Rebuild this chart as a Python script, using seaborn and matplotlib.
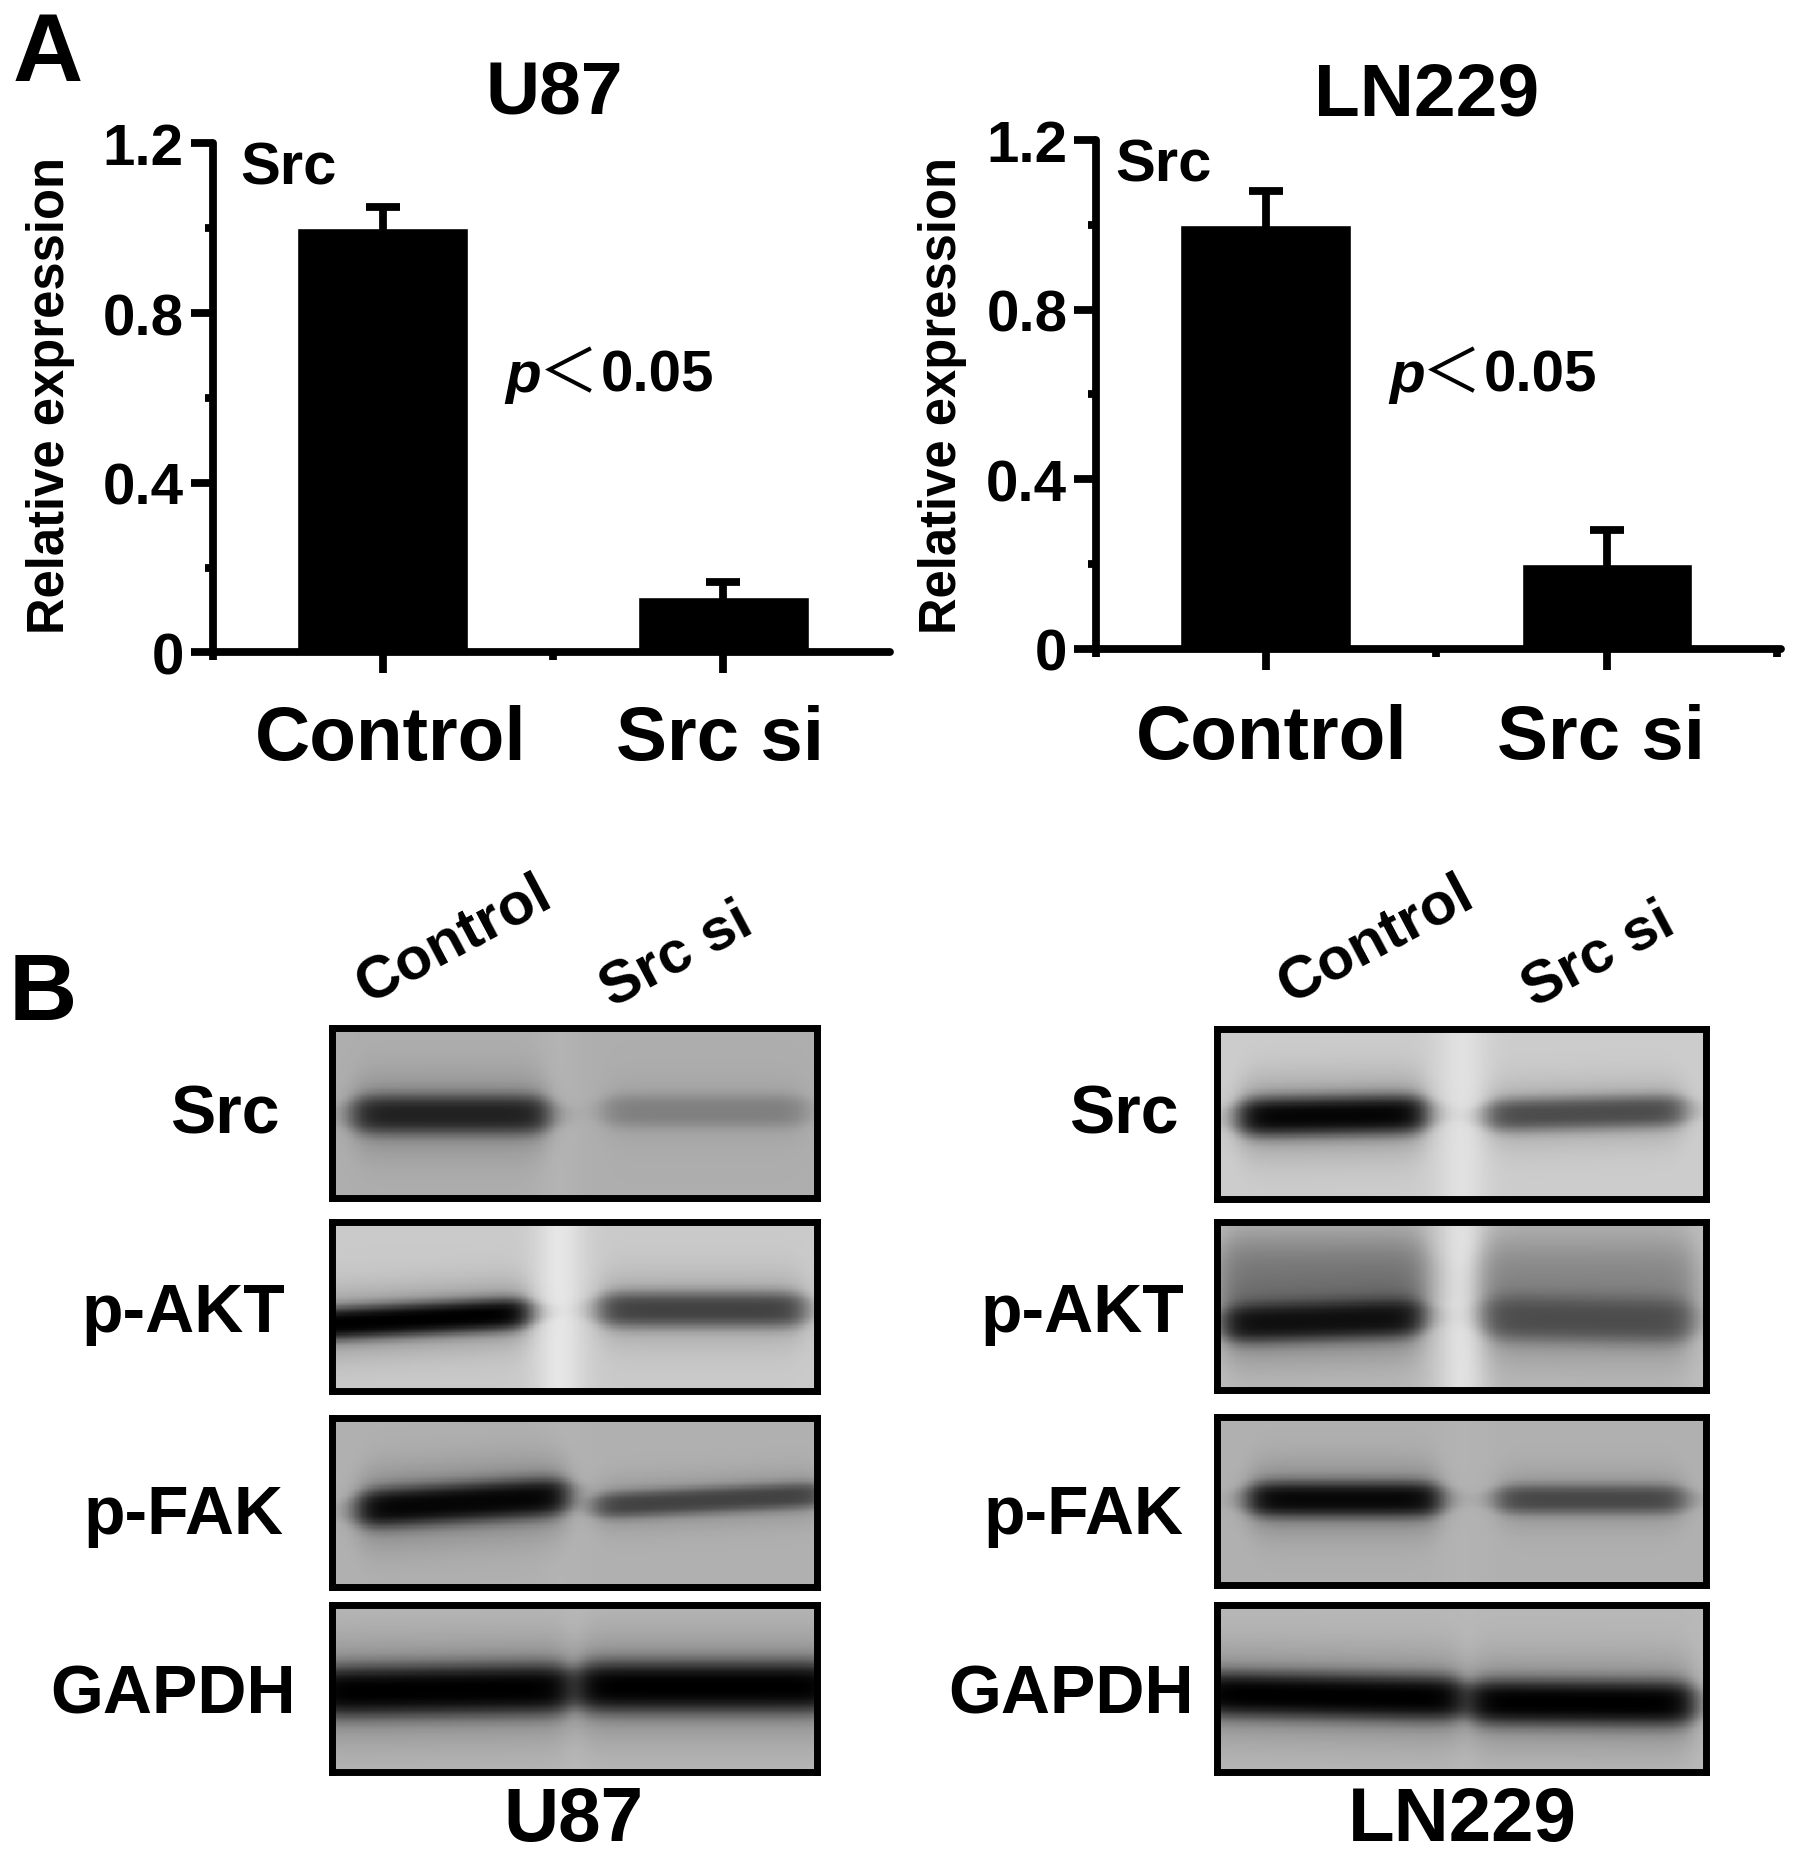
"""Bar charts and western blot panels for Src knockdown in U87 and LN229."""

import numpy as np
import matplotlib
matplotlib.use('Agg')
import matplotlib.pyplot as plt
from matplotlib.ticker import FixedLocator
from matplotlib.transforms import ScaledTranslation
import seaborn as sns

# layout is measured on a 1516x1568 view of the figure
VIEW_W, VIEW_H = 1516, 1568

CONDITIONS = ['Control', 'Src si']
CELL_LINES = ['U87', 'LN229']

U87_EXPRESSION = [1.00, 0.13]
U87_ERROR = [0.05, 0.035]
LN229_EXPRESSION = [1.00, 0.20]
LN229_ERROR = [0.08, 0.08]

Y_TICKS = [0, 0.4, 0.8, 1.2]
Y_TICK_LABELS = ['0', '0.4', '0.8', '1.2']
Y_MINOR_TICKS = [0.2, 0.6, 1.0]

BLOT_ROWS = ['Src', 'p-AKT', 'p-FAK', 'GAPDH']

# background grey of each membrane, and grey of the pale strip between lanes
U87_BACKGROUND = [0.68, 0.79, 0.69, 0.72]
U87_GAP = [0.70, 0.90, 0.70, 0.72]
LN229_BACKGROUND = [0.80, 0.74, 0.69, 0.72]
LN229_GAP = [0.88, 0.88, 0.70, 0.72]

# one band per row and lane: x start, x end, y left, y right, half thickness, darkest grey
U87_BANDS = [
    [(0.04, 0.45, 0.51, 0.51, 0.12, 0.13), (0.56, 0.98, 0.49, 0.49, 0.10, 0.50)],
    [(-0.10, 0.41, 0.62, 0.54, 0.10, 0.00), (0.55, 0.98, 0.52, 0.52, 0.11, 0.26)],
    [(0.05, 0.49, 0.54, 0.46, 0.12, 0.02), (0.54, 1.02, 0.52, 0.45, 0.08, 0.26)],
    [(-0.05, 0.50, 0.52, 0.50, 0.16, 0.00), (0.50, 1.05, 0.49, 0.49, 0.16, 0.00)],
]
LN229_BANDS = [
    [(0.04, 0.43, 0.52, 0.50, 0.12, 0.02), (0.55, 0.96, 0.51, 0.48, 0.10, 0.30)],
    [(0.00, 0.43, 0.35, 0.35, 0.28, 0.48), (0.54, 0.98, 0.38, 0.38, 0.30, 0.55),
     (0.01, 0.42, 0.61, 0.57, 0.12, 0.06), (0.55, 0.97, 0.57, 0.59, 0.14, 0.30)],
    [(0.06, 0.46, 0.49, 0.49, 0.11, 0.03), (0.57, 0.96, 0.49, 0.49, 0.09, 0.28)],
    [(-0.05, 0.51, 0.53, 0.56, 0.14, 0.00), (0.51, 0.98, 0.58, 0.59, 0.14, 0.00)],
]

sns.set_theme(style='ticks', rc={'text.color': 'black', 'axes.edgecolor': 'black',
                                 'xtick.color': 'black', 'ytick.color': 'black'})
plt.rcParams['font.family'] = ['Liberation Sans', 'DejaVu Sans']
plt.rcParams['font.weight'] = 'bold'

AXIS_LINE = 5.6
FRAME_LINE = 5.0


def rect(left, top, right, bottom):
    return [left / VIEW_W, 1 - bottom / VIEW_H, (right - left) / VIEW_W, (bottom - top) / VIEW_H]


def put_text(fig, x, y, text, size, **kwargs):
    kwargs.setdefault('ha', 'center')
    kwargs.setdefault('va', 'center')
    kwargs.setdefault('fontweight', 'bold')
    return fig.text(x / VIEW_W, 1 - y / VIEW_H, text, fontsize=size, color='black', **kwargs)


def plot_bars(fig, box, xlim, values, errors, label_shifts, label_pad, title_xy, src_xy, ylabel_x, p_x):
    """Draw one expression bar chart."""
    ax = fig.add_axes(rect(*box))
    ax.patch.set_alpha(0)
    sns.barplot(x=CONDITIONS, y=values, color='black', saturation=1, width=0.5,
                errorbar=None, ax=ax)
    # the lower half of each error bar disappears inside the black bar
    ax.errorbar([0, 1], values, yerr=errors, fmt='none', ecolor='black',
                elinewidth=AXIS_LINE, capsize=12, capthick=AXIS_LINE)
    ax.set_xlim(*xlim)
    ax.set_ylim(0, 1.2)
    sns.despine(ax=ax)
    for side in ['left', 'bottom']:
        ax.spines[side].set_linewidth(AXIS_LINE)
        ax.spines[side].set_capstyle('round')

    ax.set_yticks(Y_TICKS)
    ax.set_yticklabels(Y_TICK_LABELS, fontsize=42, fontweight='bold')
    ax.yaxis.set_minor_locator(FixedLocator(Y_MINOR_TICKS))
    ax.xaxis.set_minor_locator(FixedLocator([xlim[0], 0.5, 1.5]))
    ax.tick_params(axis='y', which='major', length=16, width=AXIS_LINE, pad=5)
    ax.tick_params(axis='x', which='major', length=15, width=AXIS_LINE, pad=label_pad)
    ax.tick_params(which='minor', length=6, width=AXIS_LINE)
    ax.set_xticks([0, 1])
    ax.set_xticklabels(CONDITIONS, fontsize=55, fontweight='bold')
    for label, dx in zip(ax.get_xticklabels(), label_shifts):
        shift = ScaledTranslation(dx / 72, 0, fig.dpi_scale_trans)
        label.set_transform(label.get_transform() + shift)

    put_text(fig, *title_xy[:2], title_xy[2], 54)
    put_text(fig, *src_xy, 'Src', 43)
    put_text(fig, ylabel_x, 334, 'Relative expression', 36.5, rotation=90)
    # p value is built from three pieces because the less-than sign is a CJK glyph
    put_text(fig, p_x, 331, 'p', 42, ha='left', va='baseline', fontstyle='italic')
    put_text(fig, p_x + 53, 331, '\uff1c', 43, va='baseline', fontweight='normal',
             family=['Noto Sans CJK SC', 'DejaVu Sans'])
    put_text(fig, p_x + 80, 331, '0.05', 42, ha='left', va='baseline')


def blot_image(bands, background, gap, gap_x, width=410, height=144):
    """Build a grey membrane image with the given bands on it."""
    xs = np.linspace(0, 1, width)[None, :]
    ys = np.linspace(0, 1, height)[:, None]
    img = background + (gap - background) * np.exp(-((xs - gap_x) / 0.05) ** 2) * np.ones_like(ys)
    for x0, x1, y0, y1, half, dark in bands:
        ends = (1 / (1 + np.exp(-(xs - x0) / 0.016))) * (1 / (1 + np.exp((xs - x1) / 0.016)))
        middle = y0 + (y1 - y0) * (xs - x0) / (x1 - x0)
        thick = half * (0.3 + 0.7 * np.sqrt(ends))
        dist = (ys - middle) / thick
        amount = ends * (0.7 * np.exp(-np.abs(dist) ** 3) + 0.3 * np.exp(-(dist / 1.9) ** 2))
        img = img * (1 - amount) + dark * amount
    return img


def plot_blots(fig, left, right, tops, bottoms, bands, backgrounds, gaps, gap_x, label_xs, label_ys):
    """Draw one column of blots with frame and row labels."""
    for i, row in enumerate(BLOT_ROWS):
        ax = fig.add_axes(rect(left, tops[i], right, bottoms[i]))
        sns.heatmap(blot_image(bands[i], backgrounds[i], gaps[i], gap_x), cmap='gray', vmin=0, vmax=1,
                    cbar=False, xticklabels=False, yticklabels=False, rasterized=True, ax=ax)
        for spine in ax.spines.values():
            spine.set_visible(True)
            spine.set_color('black')
            spine.set_linewidth(FRAME_LINE)
        put_text(fig, label_xs[i], label_ys[i], row, 49)


fig = plt.figure(figsize=(17.95, 18.56), dpi=100)

plot_bars(fig, (180, 122, 752, 552), (-0.497, 1.49), U87_EXPRESSION, U87_ERROR, (6, -2.5), 22,
          (468, 79, CELL_LINES[0]), (244, 143), 43, 427)
plot_bars(fig, (926, 119, 1504, 549), (-0.4965, 1.51), LN229_EXPRESSION, LN229_ERROR, (4.3, -4.3), 24,
          (1205, 81, CELL_LINES[1]), (983, 140), 796, 1173)

row_label_ys = [942, 1110, 1281, 1432]
plot_blots(fig, 280, 690, [869, 1033, 1199, 1357], [1013, 1176, 1342, 1498],
           U87_BANDS, U87_BACKGROUND, U87_GAP, 0.47, [190, 155, 155, 146], row_label_ys)
plot_blots(fig, 1028, 1441, [870, 1033, 1198, 1357], [1014, 1175, 1340, 1498],
           LN229_BANDS, LN229_BACKGROUND, LN229_GAP, 0.50, [949, 914, 915, 905], row_label_ys)

put_text(fig, 40, 47, 'A', 70)
put_text(fig, 36, 841, 'B', 68)

for x_control, x_si in [(383, 571), (1162, 1350)]:
    put_text(fig, x_control, 794, CONDITIONS[0], 43, rotation=28)
    put_text(fig, x_si, 807, CONDITIONS[1], 43, rotation=28)

put_text(fig, 484, 1539, CELL_LINES[0], 55)
put_text(fig, 1235, 1539, CELL_LINES[1], 55)

fig.savefig('out.png', dpi=100, facecolor='white')
plt.close(fig)
